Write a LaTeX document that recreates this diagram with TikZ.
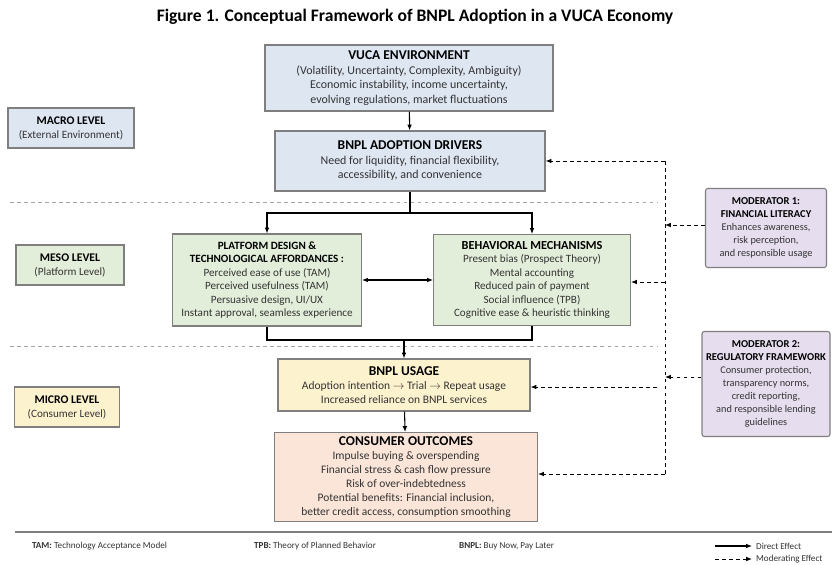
\documentclass[tikz,border=0pt]{standalone}
\usepackage{fontspec}
\setmainfont{Carlito}
\usetikzlibrary{arrows.meta}
\definecolor{vucablue}{HTML}{DEE6F2}
\definecolor{mesogreen}{HTML}{E3EEDA}
\definecolor{microyellow}{HTML}{FDF2CE}
\definecolor{outcomepeach}{HTML}{FBE5D8}
\definecolor{modlilac}{HTML}{E6DDEE}
\definecolor{edgegray}{HTML}{7F7F7F}
\definecolor{bodygray}{HTML}{333333}
\newcommand\boxhead[1]{{\color{black}\bfseries\fontsize{11.5}{13.5}\selectfont #1}}
\newcommand\levelhead[1]{{\color{black}\bfseries\fontsize{10}{12}\selectfont #1}}
\newcommand\smallhead[1]{{\color{black}\bfseries\fontsize{9.5}{11.5}\selectfont #1}}
\newcommand\modhead[1]{{\color{black}\bfseries\fontsize{9}{11}\selectfont #1}}
\begin{document}
\begin{tikzpicture}[x=0.03cm,y=-0.03cm,
  box/.style={draw=edgegray, line width=0.9pt, align=center, inner sep=1pt,
    text=bodygray, font=\fontsize{9.8}{12}\selectfont},
  levelbox/.style={box, font=\fontsize{9.5}{12}\selectfont, minimum height=1.2cm},
  modbox/.style={box, rounded corners=2pt, fill=modlilac, font=\fontsize{8.8}{11}\selectfont},
  direct/.style={-{Latex[length=5pt,width=4pt]}, line width=0.9pt},
  moderating/.style={-{Latex[length=5pt,width=4pt]}, line width=0.8pt, dashed},
  levelline/.style={edgegray!70, dashed, line width=0.6pt}]
\useasboundingbox (0,0) rectangle (832,565);
\node[font=\bfseries\fontsize{15}{18}\selectfont] (title) at (415,17) {Figure 1. Conceptual Framework of BNPL Adoption in a VUCA Economy};
% level separators
\draw[levelline] (10,202) -- (657,202);
\draw[levelline] (10,346) -- (657,346);
% level labels
\node[levelbox, fill=vucablue, minimum width=3.78cm] (macro) at (71,128) {\levelhead{MACRO LEVEL}\\(External Environment)};
\node[levelbox, fill=mesogreen, minimum width=3.24cm] (meso) at (70,265) {\levelhead{MESO LEVEL}\\(Platform Level)};
\node[levelbox, fill=microyellow, minimum width=3.15cm] (micro) at (67,407) {\levelhead{MICRO LEVEL}\\(Consumer Level)};
% main chain
\node[box, fill=vucablue, minimum width=8.64cm, minimum height=1.98cm, font=\fontsize{10.2}{12.4}\selectfont] (vuca) at (409,78)
  {\boxhead{VUCA ENVIRONMENT}\\(Volatility, Uncertainty, Complexity, Ambiguity)\\Economic instability, income uncertainty,\\evolving regulations, market fluctuations};
\node[box, fill=vucablue, minimum width=8.1cm, minimum height=1.8cm, font=\fontsize{10.2}{12.4}\selectfont] (drivers) at (410,161)
  {\boxhead{BNPL ADOPTION DRIVERS}\\Need for liquidity, financial flexibility,\\accessibility, and convenience};
\node[box, fill=mesogreen, minimum width=5.67cm, minimum height=2.76cm, font=\fontsize{9.5}{11.5}\selectfont] (platform) at (267,280)
  {\smallhead{PLATFORM DESIGN \&}\\\smallhead{TECHNOLOGICAL AFFORDANCES :}\\Perceived ease of use (TAM)\\Perceived usefulness (TAM)\\Persuasive design, UI/UX\\Instant approval, seamless experience};
\node[box, fill=mesogreen, minimum width=5.91cm, minimum height=2.73cm, font=\fontsize{9.5}{11.5}\selectfont] (behave) at (532,280)
  {{\color{black}\bfseries\fontsize{10.5}{12.5}\selectfont BEHAVIORAL MECHANISMS}\\Present bias (Prospect Theory)\\Mental accounting\\Reduced pain of payment\\Social influence (TPB)\\Cognitive ease \& heuristic thinking};
\node[box, fill=microyellow, minimum width=7.56cm, minimum height=1.56cm] (usage) at (404,385)
  {\boxhead{BNPL USAGE}\\Adoption intention $\rightarrow$ Trial $\rightarrow$ Repeat usage\\Increased reliance on BNPL services};
\node[box, fill=outcomepeach, minimum width=7.89cm, minimum height=2.67cm] (outcome) at (406,477)
  {\boxhead{CONSUMER OUTCOMES}\\Impulse buying \& overspending\\Financial stress \& cash flow pressure\\Risk of over-indebtedness\\Potential benefits: Financial inclusion,\\better credit access, consumption smoothing};
% moderators
\node[modbox, minimum width=3.63cm, minimum height=2.37cm] (modone) at (766,228)
  {\modhead{MODERATOR 1:}\\\modhead{FINANCIAL LITERACY}\\Enhances awareness,\\risk perception,\\and responsible usage};
\node[modbox, minimum width=3.84cm, minimum height=3.15cm] (modtwo) at (766,384)
  {\modhead{MODERATOR 2:}\\\modhead{REGULATORY FRAMEWORK}\\Consumer protection,\\transparency norms,\\credit reporting,\\and responsible lending\\guidelines};
% direct effects
\draw[direct] (vuca) -- (drivers);
\coordinate (split) at (410,213);
\draw[line width=0.9pt] (drivers.south) -- (split);
\draw[direct] (split) -| (platform.north);
\draw[direct] (split) -| (behave.north);
\draw[{Latex[length=5pt,width=4pt]}-{Latex[length=5pt,width=4pt]}, line width=0.9pt] (platform) -- (behave);
\coordinate (merge) at (404,340);
\draw[line width=0.9pt] (platform.south) |- (merge) -| (behave.south);
\draw[direct] (merge) -- (usage);
\draw[direct] (usage) -- (outcome);
% moderating bus
\coordinate (bustop) at (665,161);
\coordinate (busbottom) at (665,474);
\draw[dashed, line width=0.8pt] (bustop) -- (busbottom);
\draw[moderating] (modone.west |- 0,225) -- (bustop |- 0,225);
\draw[moderating] (modtwo.west |- 0,377) -- (bustop |- 0,377);
\draw[moderating] (bustop) -- (drivers.east |- bustop);
\draw[moderating] (bustop |- 0,282) -- (behave.east |- 0,282);
\draw[moderating] (657,387) -- (usage.east |- 0,387);
\draw[moderating] (busbottom) -- (outcome.east |- busbottom);
% footer
\draw[edgegray, line width=0.9pt] (15,532) -- (832,532);
\begin{scope}[every node/.style={anchor=west, text=bodygray, font=\fontsize{7.8}{9}\selectfont}]
\node (tam) at (28,546) {\textbf{TAM:} Technology Acceptance Model};
\node (tpb) at (250,546) {\textbf{TPB:} Theory of Planned Behavior};
\node (bnpl) at (455,546) {\textbf{BNPL:} Buy Now, Pay Later};
\coordinate (ldirect) at (715,546);
\coordinate (lmod) at (715,559);
\node (ldirecttext) at (752,546) {Direct Effect};
\node (lmodtext) at (752,559) {Moderating Effect};
\end{scope}
\draw[direct] (ldirect) -- (ldirecttext.west);
\draw[moderating] (lmod) -- (lmodtext.west);
\end{tikzpicture}
\end{document}
